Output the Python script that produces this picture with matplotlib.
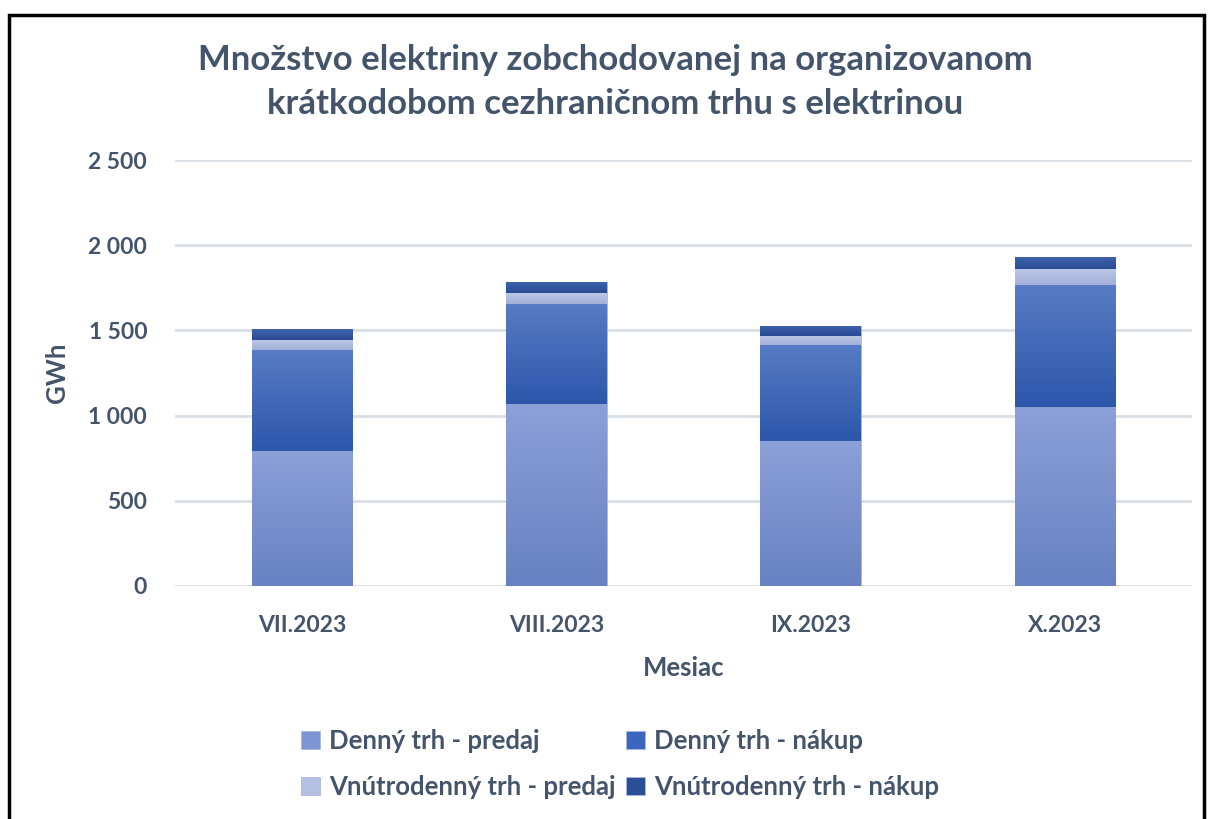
import numpy as np
import matplotlib.pyplot as plt
from matplotlib.patches import Rectangle
from matplotlib.colors import LinearSegmentedColormap

plt.rcParams['font.family'] = ['Lato', 'DejaVu Sans']

mesiace = ['VII.2023', 'VIII.2023', 'IX.2023', 'X.2023']
denny_predaj = [792, 1070, 851, 1049]
denny_nakup = [593, 587, 565, 719]
vnutro_predaj = [60, 61, 53, 91]
vnutro_nakup = [63, 66, 59, 70]

nazvy = ['Denný trh - predaj', 'Denný trh - nákup',
         'Vnútrodenný trh - predaj', 'Vnútrodenný trh - nákup']
farby = ['#7D95D3', '#3A66BD', '#B4C0E2', '#2B4F97']
# gradient (hore, dole) pre kazdu seriu
gradienty = [('#8CA0D8', '#6781C2'), ('#587CC6', '#2C57AA'),
             ('#BCC7E7', '#A3B0D8'), ('#3E62AC', '#294C94')]
txt = '#44546A'

fig = plt.figure(figsize=(12.09, 8.19), dpi=100)
ax = fig.add_axes([0.1447, 0.2845, 0.8413, 0.5201])

x = np.arange(len(mesiace))
spodok = np.zeros(len(mesiace))
handles = []
for vals, name, c, g in zip([denny_predaj, denny_nakup, vnutro_predaj, vnutro_nakup], nazvy, farby, gradienty):
    b = ax.bar(x, vals, 0.395, bottom=spodok, color=c, label=name, zorder=3,
               edgecolor='#A9B8E0', linewidth=0.6)
    handles.append(b)
    cmap = LinearSegmentedColormap.from_list('g', [g[1], g[0]])
    for r in b.patches:
        x0, y0 = r.get_x(), r.get_y()
        w, h = r.get_width(), r.get_height()
        grad = np.linspace(0, 1, 100).reshape(-1, 1)
        im = ax.imshow(grad, cmap=cmap, origin='lower', aspect='auto',
                       extent=(x0, x0 + w, y0, y0 + h), zorder=3.5)
        im.set_clip_path(r)
    spodok = spodok + np.array(vals)

ax.set_xlim(-0.5, 3.5)
ax.set_ylim(0, 2500)
ax.set_yticks([0, 500, 1000, 1500, 2000, 2500])
ax.set_yticklabels(['0', '500', '1 000', '1 500', '2 000', '2 500'])
ax.set_xticks(x)
ax.set_xticklabels(mesiace)
ax.yaxis.grid(True, color='#D9DEE6', linewidth=2, zorder=0)
ax.set_axisbelow(True)
for s in ax.spines.values():
    s.set_visible(False)
ax.tick_params(length=0, colors=txt, labelsize=16.5)
ax.tick_params(axis='y', pad=20)
ax.tick_params(axis='x', pad=21)
for t in ax.get_xticklabels() + ax.get_yticklabels():
    t.set_fontweight('bold')

ax.set_ylabel('GWh', color=txt, fontsize=18.5, fontweight='bold', labelpad=14)
ax.set_xlabel('Mesiac', color=txt, fontsize=18.5, fontweight='bold', labelpad=14)

fig.text(0.509, 0.9, 'Množstvo elektriny zobchodovanej na organizovanom\nkrátkodobom cezhraničnom trhu s elektrinou',
         ha='center', va='center', fontsize=25, fontweight='bold', color=txt, linespacing=1.45)

poradie = [0, 2, 1, 3]
leg = fig.legend(handles=[handles[i] for i in poradie], labels=[nazvy[i] for i in poradie],
                 loc='center', bbox_to_anchor=(0.513, 0.0672), ncol=2,
                 frameon=False, fontsize=18.5, handlelength=0.75, handleheight=0.75,
                 handletextpad=0.35, columnspacing=0.4, labelspacing=0.85)
for t in leg.get_texts():
    t.set_color(txt)
    t.set_fontweight('bold')

fig.patches.append(Rectangle((0.0075, -0.05), 0.988, 1.032, transform=fig.transFigure,
                             fill=False, edgecolor='black', linewidth=2.5))

fig.savefig('out.png', dpi=100)
